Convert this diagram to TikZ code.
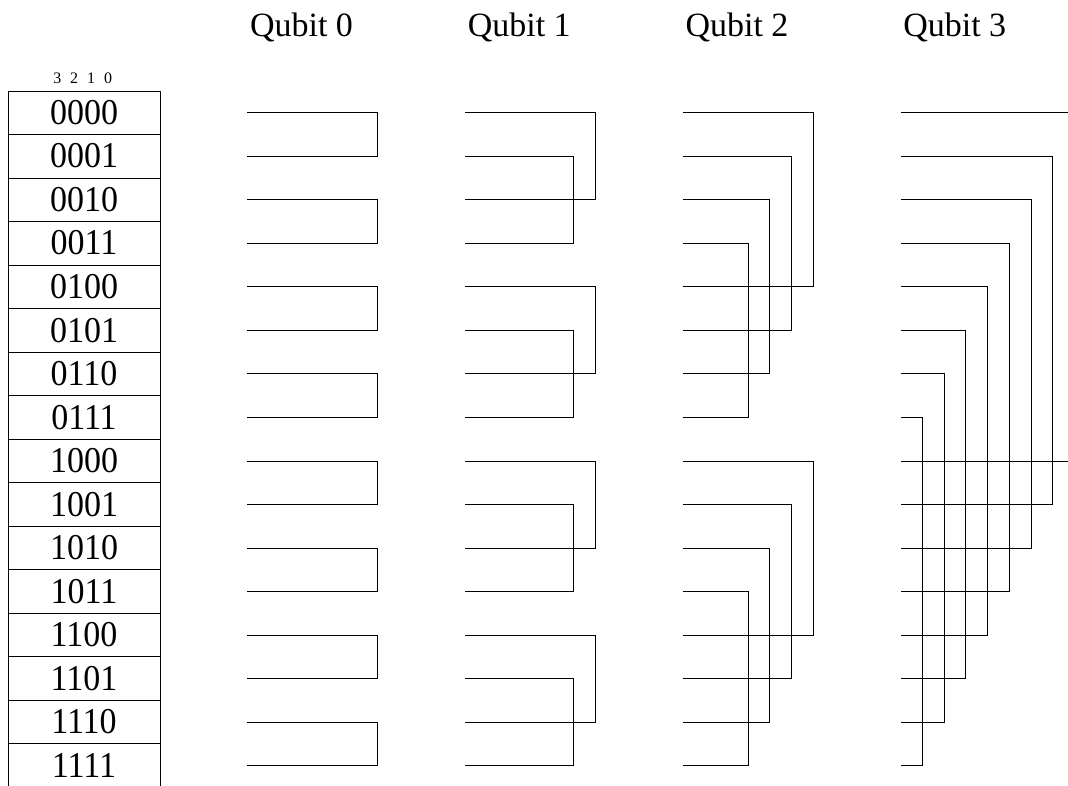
\documentclass[tikz,border=0pt]{standalone}
\usepackage{fontspec}
\setmainfont{Liberation Serif}
\begin{document}
\begin{tikzpicture}[x=1pt,y=-1pt,
  wire/.style={line width=1pt, draw=black},
  cell/.style={draw=black, line width=1pt, minimum width=152pt, minimum height=43.53pt, inner sep=0pt, font=\fontsize{34}{34}\selectfont},
  hdr/.style={anchor=base, inner sep=0pt, font=\fontsize{16}{16}\selectfont},
  title/.style={anchor=base west, inner sep=0pt, font=\fontsize{34}{34}\selectfont}]
\useasboundingbox (0,0) rectangle (1068,785);
\clip (0,0) rectangle (1068,785);
% header digits
\node[hdr] (h3) at (57.3,83.3) {3};
\node[hdr] (h2) at (74.2,83.3) {2};
\node[hdr] (h1) at (91.2,83.3) {1};
\node[hdr] (h0) at (108.2,83.3) {0};
% table rows
\foreach \r/\t in {0/0000,1/0001,2/0010,3/0011,4/0100,5/0101,6/0110,7/0111,8/1000,9/1001,10/1010,11/1011,12/1100,13/1101,14/1110,15/1111}{
  \node[cell] (row\r) at (84,{91+43.53*(\r+0.5)}) {\raisebox{1pt}{\scalebox{1}[1.07]{\t}}};
}
% qubit titles and wires
\foreach \q in {0,1,2,3}{
  \pgfmathsetmacro\xo{247.3+217.75*\q}
  \node[title] (title\q) at ({\xo+2.5},36.7) {Qubit \q};
  \pgfmathtruncatemacro\s{2^\q}
  \foreach \r in {0,...,15}{
    \coordinate (s\q-\r) at (\xo,{112.765+43.53*\r});
  }
  \foreach \r in {0,...,15}{
    \pgfmathtruncatemacro\bit{mod(floor(\r/\s),2)}
    \ifnum\bit=0
      \pgfmathtruncatemacro\p{\r+\s}
      \pgfmathtruncatemacro\j{mod(\r,\s)}
      \pgfmathsetmacro\off{ifthenelse(\q==3,8,6)-\j}
      \coordinate (c\q-\r) at ({\xo+21.77*\off},{112.765+43.53*\r});
      \coordinate (c\q-\p) at ({\xo+21.77*\off},{112.765+43.53*\p});
      \draw[wire] (s\q-\r) -- (c\q-\r) -- (c\q-\p) -- (s\q-\p);
    \fi
  }
}
\end{tikzpicture}
\end{document}
